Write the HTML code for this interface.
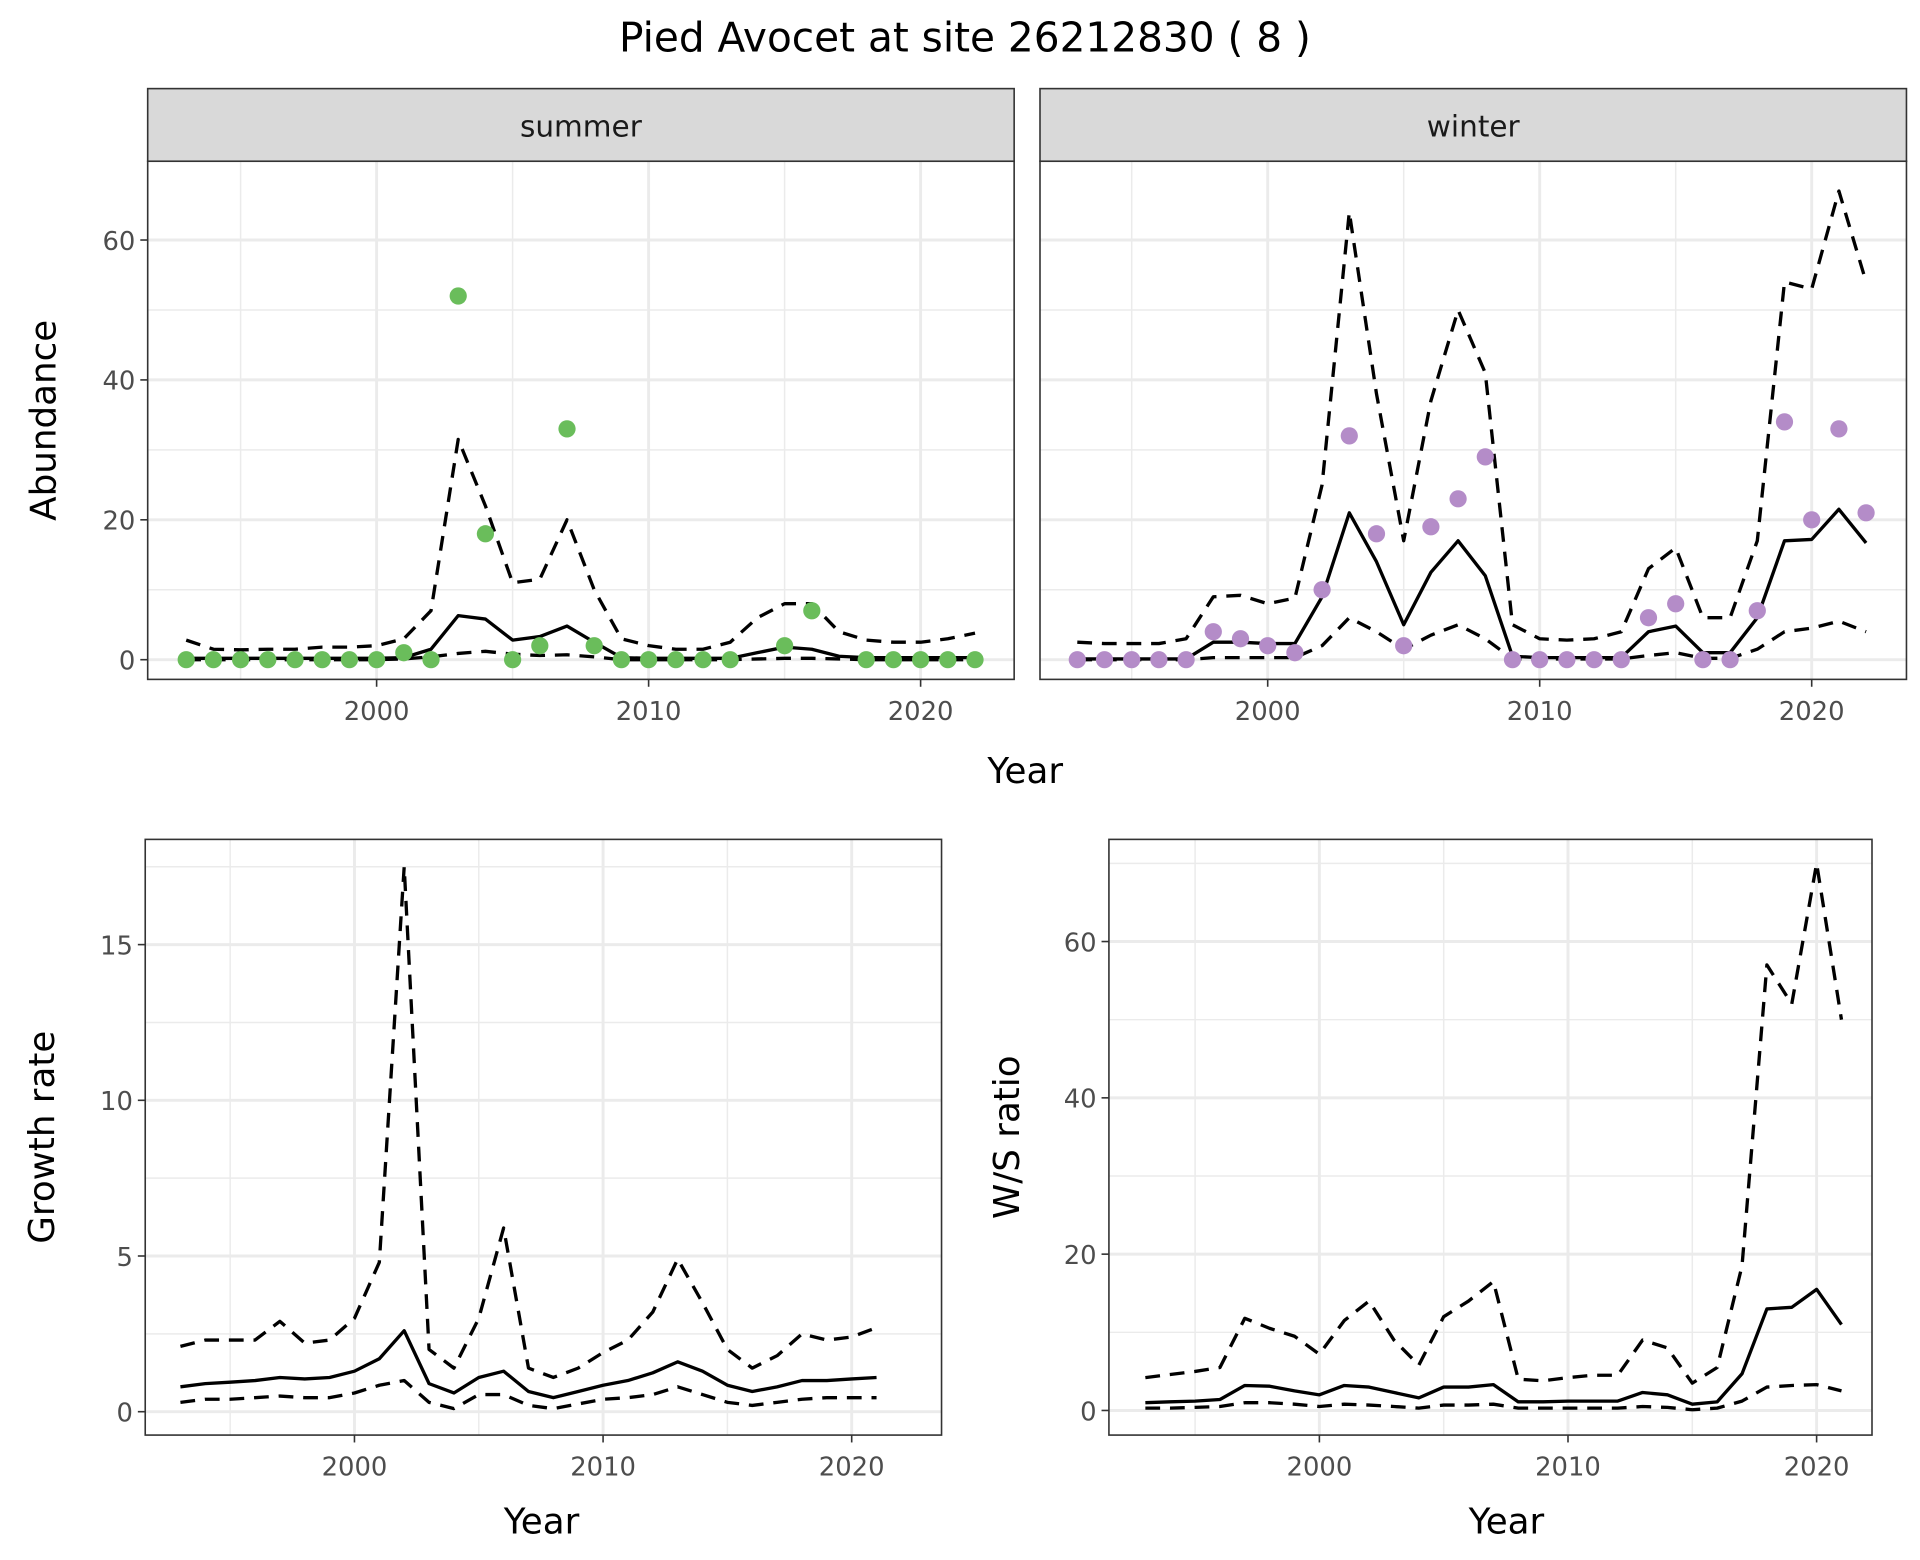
<!DOCTYPE html>
<html><head><meta charset="utf-8"><style>
html,body{margin:0;padding:0;background:#fff}
svg{display:block}
text{font-family:"DejaVu Sans","Liberation Sans",sans-serif}
</style></head><body>
<svg id="chart" width="1920" height="1560" viewBox="0 0 1560 1267.5" xmlns="http://www.w3.org/2000/svg">
<rect x="0" y="0" width="1560" height="1267.5" fill="#fff"/>
<text x="784" y="42" font-size="33" text-anchor="middle" fill="#000">Pied Avocet at site 26212830 ( 8 )</text>
</svg>
<script>
const yearsAll = [1993,1994,1995,1996,1997,1998,1999,2000,2001,2002,2003,2004,2005,2006,2007,2008,2009,2010,2011,2012,2013,2014,2015,2016,2017,2018,2019,2020,2021,2022];
const summerCounts = [0,0,0,0,0,0,0,0,1,0,52,18,0,2,33,2,0,0,0,0,0,null,2,7,null,0,0,0,0,0];
const summerMean = [0.2,0.2,0.2,0.2,0.2,0.2,0.2,0.2,0.3,1.5,6.3,5.8,2.8,3.3,4.8,2.5,0.3,0.2,0.2,0.2,0.2,1,1.8,1.5,0.5,0.3,0.3,0.3,0.3,0.3];
const summerUpper = [2.8,1.5,1.4,1.5,1.5,1.8,1.8,2,3,7,31.5,22,11,11.5,20,10,3,2,1.5,1.5,2.5,6,8,8,4,2.8,2.5,2.5,3,3.8];
const summerLower = [0,0,0,0,0,0,0,0,0.1,0.4,0.9,1.2,0.8,0.6,0.7,0.4,0,0,0,0,0,0.1,0.2,0.2,0.1,0,0,0,0,0];
const winterCounts = [0,0,0,0,0,4,3,2,1,10,32,18,2,19,23,29,0,0,0,0,0,6,8,0,0,7,34,20,33,21];
const winterMean = [0.1,0.1,0.1,0.1,0.1,2.5,2.5,2.3,2.3,9,21,14,5,12.5,17,12,0.5,0.3,0.3,0.3,0.3,4,4.8,1,1,6,17,17.2,21.5,16.7];
const winterUpper = [2.5,2.3,2.3,2.3,3,9,9.2,8,8.8,25,64,38,17,37,50,41,5,3,2.8,3,4,13,16,6,6,17,54,53,67,54];
const winterLower = [0,0,0,0,0,0.3,0.3,0.3,0.3,2,6,4,1.5,3.5,5,3,0.1,0.1,0.1,0.1,0.1,0.6,1,0.2,0.2,1.5,4,4.5,5.5,4];
const yearsRate = [1993,1994,1995,1996,1997,1998,1999,2000,2001,2002,2003,2004,2005,2006,2007,2008,2009,2010,2011,2012,2013,2014,2015,2016,2017,2018,2019,2020,2021];
const growthMean = [0.8,0.9,0.95,1.0,1.1,1.05,1.1,1.3,1.7,2.6,0.9,0.6,1.1,1.3,0.65,0.45,0.65,0.85,1.0,1.25,1.6,1.3,0.85,0.65,0.8,1.0,1.0,1.05,1.1];
const growthUpper = [2.1,2.3,2.3,2.3,2.9,2.2,2.3,3.0,4.8,17.5,2.0,1.4,3.0,5.9,1.4,1.1,1.4,1.9,2.3,3.2,4.9,3.5,2.0,1.4,1.8,2.5,2.3,2.4,2.7];
const growthLower = [0.3,0.4,0.4,0.45,0.5,0.45,0.45,0.6,0.85,1.0,0.3,0.1,0.55,0.55,0.2,0.1,0.25,0.4,0.45,0.55,0.8,0.55,0.3,0.2,0.3,0.4,0.45,0.45,0.45];
const ratioMean = [1.0,1.1,1.2,1.4,3.2,3.1,2.5,2.0,3.2,3.0,2.3,1.6,3.0,3.0,3.3,1.1,1.1,1.2,1.2,1.2,2.3,2.0,0.8,1.1,4.7,13,13.2,15.5,11];
const ratioUpper = [4.2,4.6,5,5.5,11.8,10.5,9.5,7.2,11.5,14,9,5.8,12,14,16.5,4,3.8,4.2,4.5,4.5,9,8,3.5,5.5,18.5,57,52,70,50];
const ratioLower = [0.3,0.3,0.4,0.5,1,1,0.8,0.5,0.8,0.7,0.5,0.3,0.7,0.7,0.8,0.3,0.3,0.3,0.3,0.3,0.5,0.4,0.1,0.3,1.2,3,3.2,3.3,2.5];
const xTicks = [2000,2010,2020];
const xMinor = [1995,2005,2015];
const abundTicks = [0,20,40,60];
const abundMinor = [10,30,50];
const growthTicks = [0,5,10,15];
const growthMinor = [2.5,7.5,12.5,17.5];
const ratioTicks = [0,20,40,60];
const ratioMinor = [10,30,50,70];

const svg = document.getElementById('chart');
const NS = 'http://www.w3.org/2000/svg';
function mk(tag, attrs, parent){
  const e = document.createElementNS(NS, tag);
  for (const k in attrs) e.setAttribute(k, attrs[k]);
  (parent||svg).appendChild(e);
  return e;
}
function panel(p){
  const g = mk('g', {});
  
  
  const xs = v => p.x0px + (v - p.x0v) * p.xpx;
  const ys = v => p.y0px - v * p.ypx;
  mk('rect', {x:p.L, y:p.T, width:p.R-p.L, height:p.B-p.T, fill:'#fff'}, g);
  p.yMinor.forEach(v => { const y = ys(v); if (y > p.T && y < p.B) mk('line', {x1:p.L, x2:p.R, y1:y, y2:y, stroke:'#ebebeb', 'stroke-width':1.2}, g); });
  p.xMinorV.forEach(v => mk('line', {x1:xs(v), x2:xs(v), y1:p.T, y2:p.B, stroke:'#ebebeb', 'stroke-width':1.2}, g));
  p.yMajor.forEach(v => mk('line', {x1:p.L, x2:p.R, y1:ys(v), y2:ys(v), stroke:'#ebebeb', 'stroke-width':2.4}, g));
  xTicks.forEach(v => mk('line', {x1:xs(v), x2:xs(v), y1:p.T, y2:p.B, stroke:'#ebebeb', 'stroke-width':2.4}, g));
  const series = [[p.upper,'12,8'],[p.lower,'12,8'],[p.mean,null]];
  series.forEach(([arr, dash], i) => {
    let d = '';
    arr.forEach((v, j) => { d += (j ? 'L' : 'M') + xs(p.years[j]).toFixed(1) + ',' + ys(v).toFixed(1); });
    const a = {d:d, fill:'none', stroke:'#000', 'stroke-width':2.7, 'stroke-linejoin':'round'};
    if (dash) a['stroke-dasharray'] = dash;
    const path = mk('path', a, g);
    
    
  });
  if (p.points) {
    p.points.forEach((v, j) => {
      if (v === null) return;
      const c = mk('circle', {cx:xs(p.years[j]), cy:ys(v), r:7, fill:p.color}, g);
      
      
    });
  }
  mk('rect', {x:p.L, y:p.T, width:p.R-p.L, height:p.B-p.T, fill:'none', stroke:'#333', 'stroke-width':1.3}, g);
  if (p.strip) {
    mk('rect', {x:p.L, y:p.T-59, width:p.R-p.L, height:59, fill:'#d9d9d9', stroke:'#333', 'stroke-width':1.3}, g);
    const st = mk('text', {x:(p.L+p.R)/2, y:p.T-20, 'font-size':24, 'text-anchor':'middle', fill:'#1a1a1a'}, g);
    st.textContent = p.strip;
    
    
  }
  xTicks.forEach(v => {
    mk('line', {x1:xs(v), x2:xs(v), y1:p.B, y2:p.B+6, stroke:'#333', 'stroke-width':1.3}, g);
    const t = mk('text', {x:xs(v), y:p.B+33, 'font-size':21, 'text-anchor':'middle', fill:'#4d4d4d'}, g);
    t.textContent = v;
    
    
  });
  if (p.yLabels) {
    p.yMajor.forEach(v => {
      mk('line', {x1:p.L-6, x2:p.L, y1:ys(v), y2:ys(v), stroke:'#333', 'stroke-width':1.3}, g);
      const t = mk('text', {x:p.L-10, y:ys(v)+8, 'font-size':21, 'text-anchor':'end', fill:'#4d4d4d'}, g);
      t.textContent = v;
      
      
    });
  }
  if (p.ytitle) {
    const cy = (p.T + p.B) / 2;
    const t = mk('text', {x:p.ytx, y:cy, 'font-size':29, 'text-anchor':'middle', fill:'#000', transform:'rotate(-90 '+p.ytx+' '+cy+')'}, g);
    t.textContent = p.ytitle;
    
    
  }
  if (p.xtitleX) {
    const t = mk('text', {x:p.xtitleX, y:p.xtitleY, 'font-size':29, 'text-anchor':'middle', fill:'#000'}, g);
    t.textContent = 'Year';
    
    
  }
}
const topY = {y0px:536, ypx:5.683, T:131, B:552, yMajor:abundTicks, yMinor:abundMinor, xMinorV:xMinor};
panel(Object.assign({name:'summer-panel', L:120, R:824, x0px:306, x0v:2000, xpx:22.1, years:yearsAll, mean:summerMean, upper:summerUpper, lower:summerLower, points:summerCounts, color:'#6abd5b', strip:'summer', yLabels:true, ytitle:'Abundance', ytx:45}, topY));
panel(Object.assign({name:'winter-panel', L:845, R:1549, x0px:1030, x0v:2000, xpx:22.1, years:yearsAll, mean:winterMean, upper:winterUpper, lower:winterLower, points:winterCounts, color:'#b48cc8', strip:'winter', yLabels:false}, topY));
panel({name:'growth-rate-panel', L:118, R:765, T:682, B:1166, x0px:288, x0v:2000, xpx:20.2, y0px:1147, ypx:25.3, yMajor:growthTicks, yMinor:growthMinor, xMinorV:xMinor, years:yearsRate, mean:growthMean, upper:growthUpper, lower:growthLower, yLabels:true, ytitle:'Growth rate', ytx:44, xtitleX:440, xtitleY:1246});
panel({name:'ws-ratio-panel', L:901, R:1521, T:682, B:1166, x0px:1072, x0v:2000, xpx:20.2, y0px:1146, ypx:6.35, yMajor:ratioTicks, yMinor:ratioMinor, xMinorV:xMinor, years:yearsRate, mean:ratioMean, upper:ratioUpper, lower:ratioLower, yLabels:true, ytitle:'W/S ratio', ytx:828, xtitleX:1224, xtitleY:1246});
const yt = mk('text', {x:833, y:636, 'font-size':29, 'text-anchor':'middle', fill:'#000'});
yt.textContent = 'Year';


</script>
</body></html>
